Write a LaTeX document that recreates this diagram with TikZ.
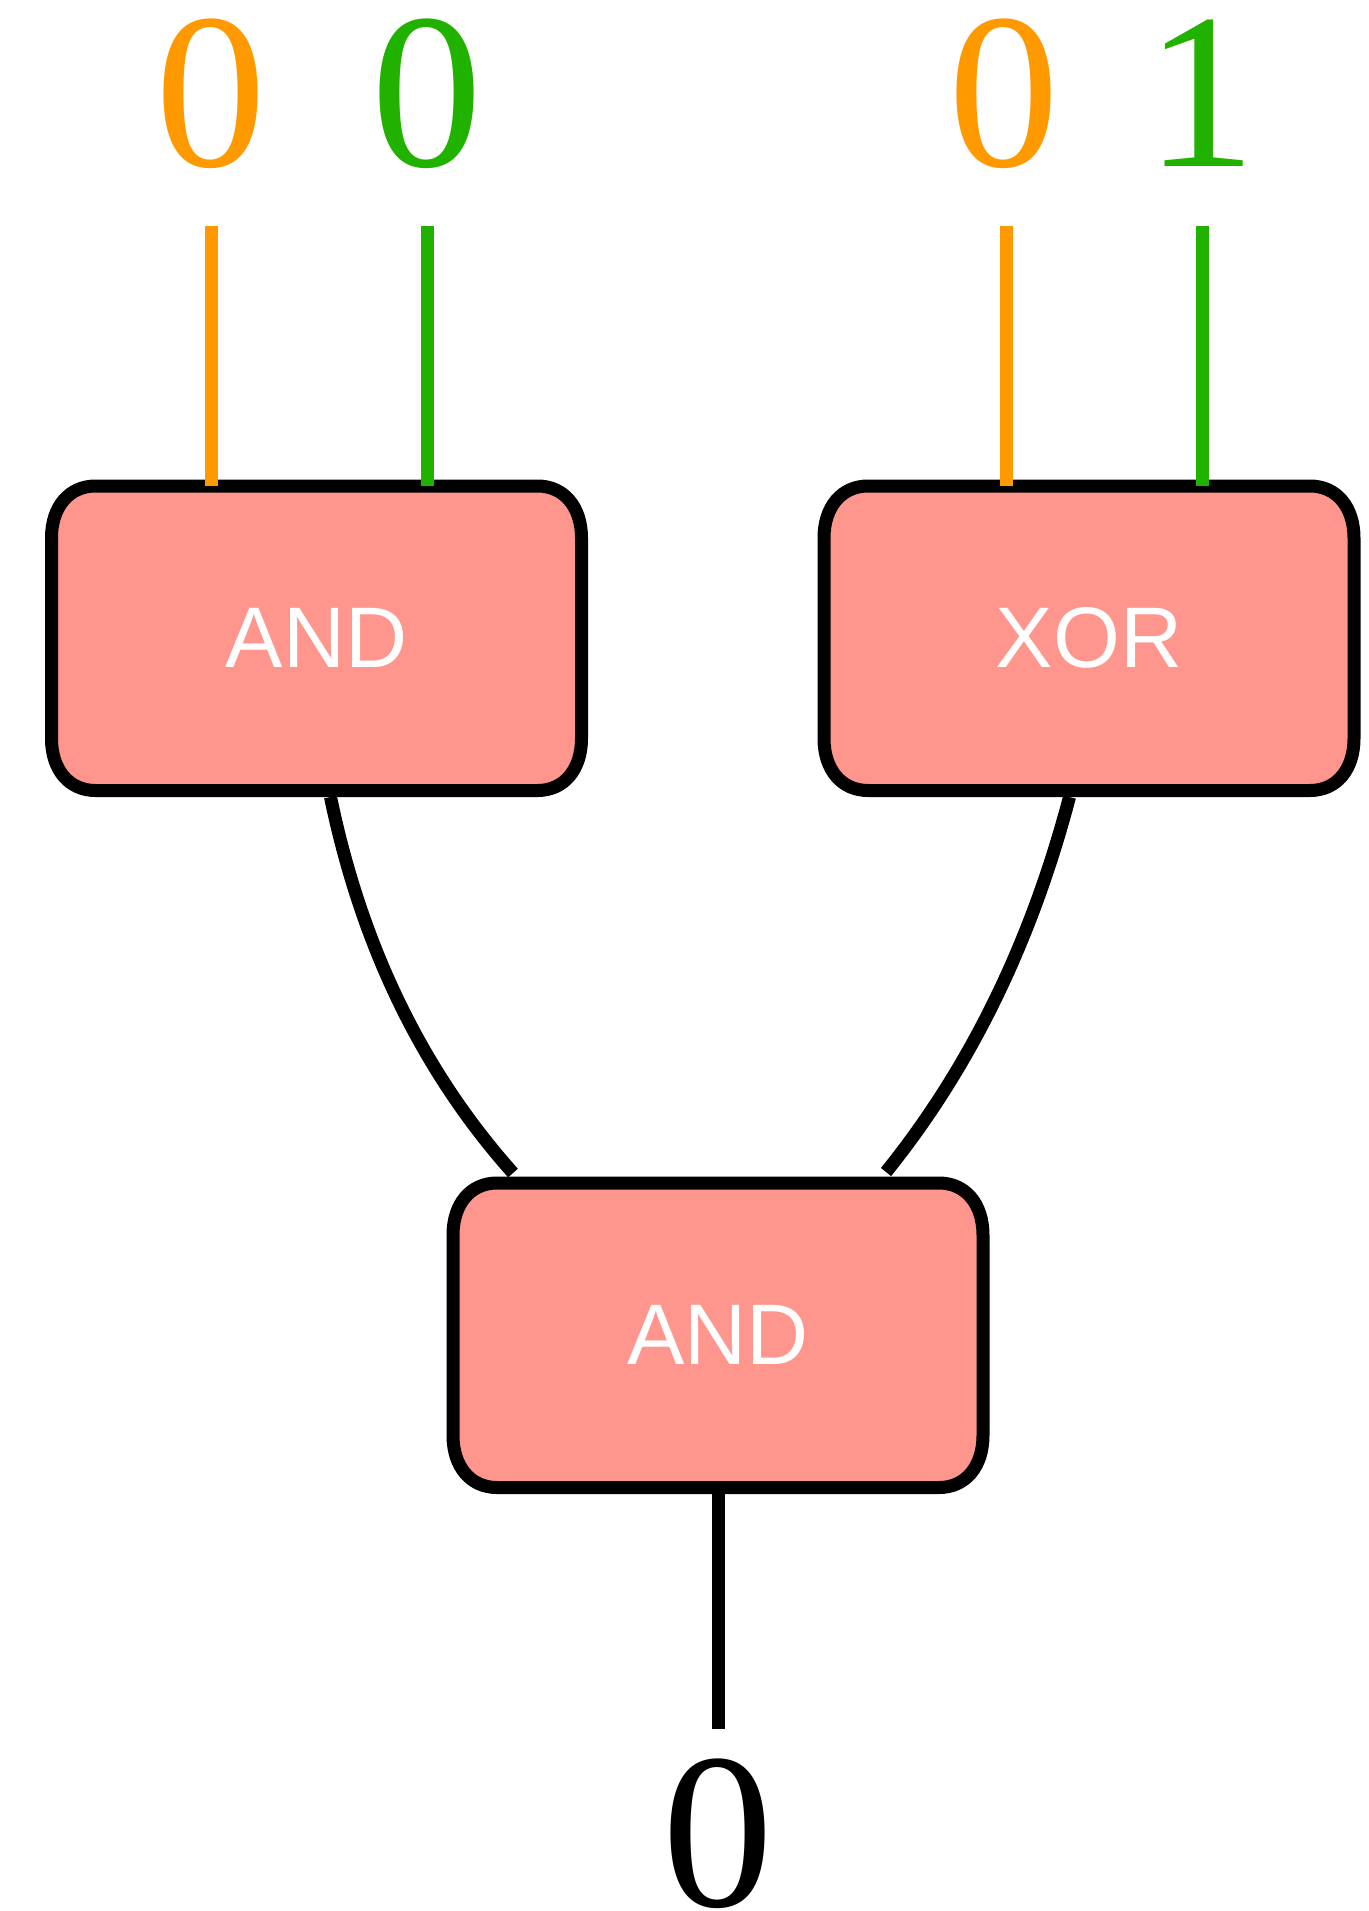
\documentclass[tikz,border=0pt]{standalone}
\usepackage{fontspec}
\usetikzlibrary{backgrounds}
\setmainfont{Liberation Serif}
\newfontfamily\gatefont{Liberation Sans}
\definecolor{bitorange}{RGB}{255,153,0}
\definecolor{bitgreen}{RGB}{33,178,0}
\definecolor{gatefill}{RGB}{254,150,141}
\tikzset{
  gate/.style={inner sep=0pt, outer sep=0pt,
    minimum width=265pt, minimum height=152.25pt,
    font=\gatefont\fontsize{43pt}{43pt}\selectfont, text=white},
  gateline/.style={draw=black, fill=gatefill, line width=6.5pt},
  bit/.style={inner sep=0pt, anchor=base, font=\fontsize{111pt}{111pt}\selectfont},
  wire/.style={line width=6.5pt},
}
% soft-cornered outline around a gate node
\newcommand\gateoutline[1]{%
  \path[gateline]
    ([xshift=22pt]#1.north west) -- ([xshift=-22pt]#1.north east)
    .. controls ([xshift=-8.8pt]#1.north east) and ([yshift=-10.4pt]#1.north east) .. ([yshift=-26pt]#1.north east)
    -- ([yshift=26pt]#1.south east)
    .. controls ([yshift=10.4pt]#1.south east) and ([xshift=-8.8pt]#1.south east) .. ([xshift=-22pt]#1.south east)
    -- ([xshift=22pt]#1.south west)
    .. controls ([xshift=8.8pt]#1.south west) and ([yshift=10.4pt]#1.south west) .. ([yshift=26pt]#1.south west)
    -- ([yshift=-26pt]#1.north west)
    .. controls ([yshift=-10.4pt]#1.north west) and ([xshift=8.8pt]#1.north west) .. ([xshift=22pt]#1.north west)
    -- cycle;}
\begin{document}
\begin{tikzpicture}[x=0.5pt,y=-0.5pt]
\useasboundingbox (0,0) rectangle (1369,1911);

% input bits
\node[bit, text=bitorange] (a1) at (211,166) {0};
\node[bit, text=bitgreen]  (b1) at (427,166) {0};
\node[bit, text=bitorange] (a2) at (1004,166) {0};
\node[bit, text=bitgreen]  (b2) at (1201,166) {1};

% gates
\node[gate] (and1) at (316.5,638.25) {AND};
\node[gate] (xor1) at (1089,638.25) {XOR};
\node[gate] (and2) at (718,1335.25) {AND};

\begin{scope}[on background layer]
  \gateoutline{and1}
  \gateoutline{xor1}
  \gateoutline{and2}
\end{scope}

% input wire tops
\coordinate (wa1) at (211,225.5);
\coordinate (wb1) at (427,225.5);
\coordinate (wa2) at (1006,225.5);
\coordinate (wb2) at (1202,225.5);

\draw[wire, bitorange] (wa1) -- (wa1 |- and1.north);
\draw[wire, bitgreen]  (wb1) -- (wb1 |- and1.north);
\draw[wire, bitorange] (wa2) -- (wa2 |- xor1.north);
\draw[wire, bitgreen]  (wb2) -- (wb2 |- xor1.north);

% gate-to-gate wires
\coordinate (l0) at (330.5,797);
\coordinate (l1) at (361,944);
\coordinate (l2) at (421,1070);
\coordinate (l3) at (513,1173);
\draw[wire] (l0) .. controls (l1) and (l2) .. (l3);

\coordinate (r0) at (1069.5,797);
\coordinate (r1) at (1031,943);
\coordinate (r2) at (970,1068);
\coordinate (r3) at (886,1172);
\draw[wire] (r0) .. controls (r1) and (r2) .. (r3);

% output
\node[bit, text=black] (out) at (718,1906) {0};
\coordinate (wo) at (718,1728.6);
\draw[wire] (and2.south) -- (wo);
\end{tikzpicture}
\end{document}
